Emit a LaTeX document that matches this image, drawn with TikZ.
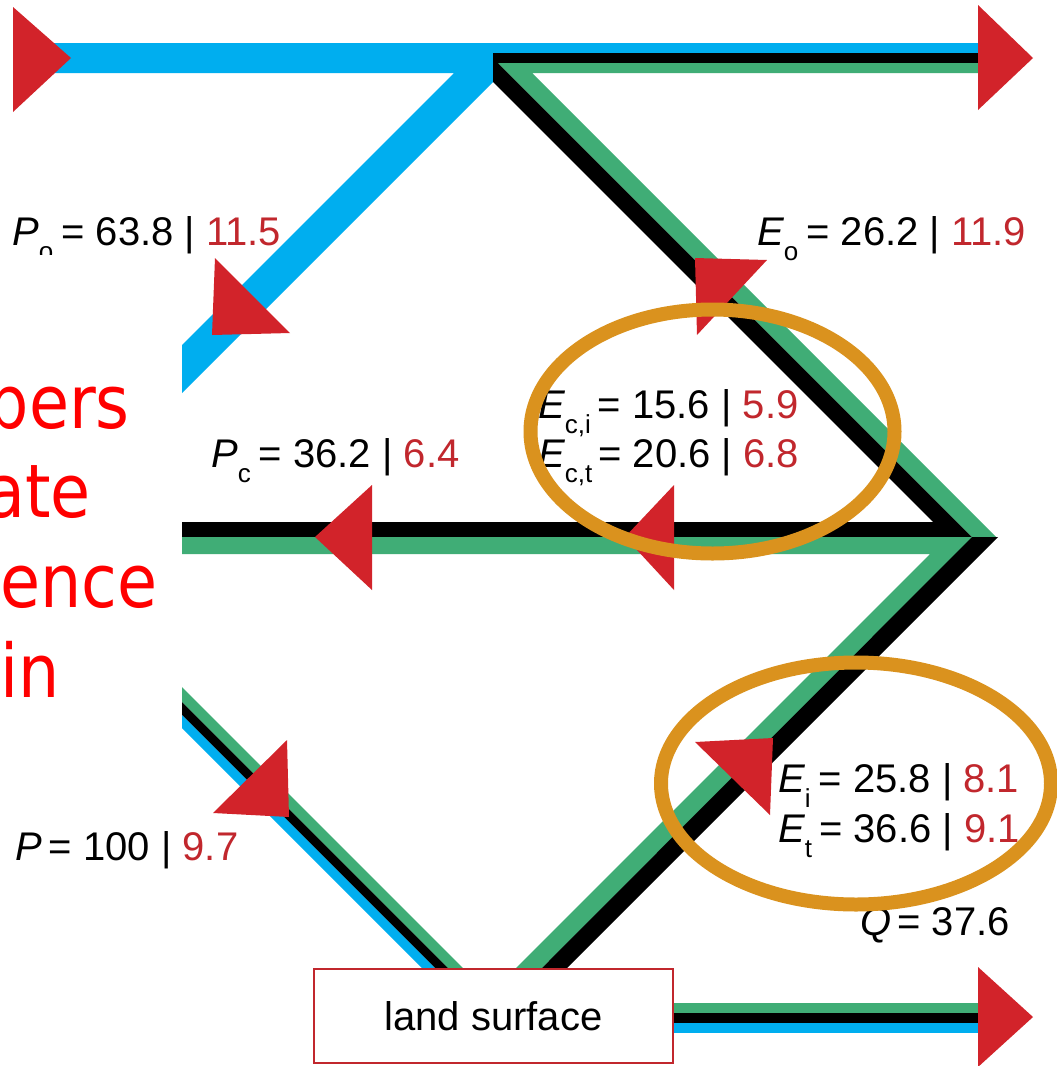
\documentclass[tikz,border=0pt]{standalone}
\usepackage{fontspec}
\setmainfont{Liberation Sans}
\newfontfamily\redfont[FakeStretch=0.88]{DejaVu Sans}
\definecolor{fblue}{RGB}{0,174,239}
\definecolor{fgreen}{RGB}{64,173,118}
\definecolor{fblack}{RGB}{0,0,0}
\definecolor{ared}{RGB}{210,35,42}
\definecolor{nred}{RGB}{193,39,45}
\definecolor{ering}{RGB}{218,146,30}
\definecolor{ovred}{RGB}{255,0,0}
\newcommand{\sbs}[1]{\raisebox{-15pt}{\fontsize{26}{26}\selectfont #1}}
\begin{document}
\begin{tikzpicture}[x=1pt,y=-1pt,
  lab/.style={font=\fontsize{40}{44}\selectfont,inner sep=0pt,anchor=base west},
  tri/.style={fill=ared},
  ring/.style={draw=ering,line width=14pt},
  ovtext/.style={font=\redfont\fontsize{74}{80}\selectfont,text=ovred,inner sep=0pt,anchor=base east}]
\useasboundingbox (0,0) rectangle (1057,1066);
\fill[white] (0,0) rectangle (1057,1066);

% key points
\coordinate (junction) at (493,58);
\coordinate (vtip) at (997,537);

% top blue (precipitation) with diagonal to canopy
\fill[fblue] (15,43) -- (985,43) -- (985,53) -- (493,53) -- (493,82) -- (150,425)
  -- (150,377) -- (454,73) -- (15,73) -- cycle;
% black band: top right, upper diagonal, middle horizontal
\fill[fblack] (150,522) -- (933,522) -- (493,82) -- (493,53) -- (985,53) -- (985,63)
  -- (498,63) -- (972,537) -- (150,537) -- cycle;
% green band: top right and upper diagonal
\fill[fgreen] (498,63) -- (985,63) -- (985,73) -- (532,73) -- (996,537) -- (972,537) -- cycle;
% green band: middle horizontal and lower diagonal
\fill[fgreen] (150,537) -- (973,537) -- (541,969) -- (515,969) -- (930,554) -- (150,554) -- cycle;
% black band: lower diagonal
\fill[fblack] (972,537) -- (998,537) -- (566,969) -- (541,969) -- cycle;

% throughfall diagonal (P)
\fill[fgreen] (150,655) -- (464,969) -- (449,969) -- (150,670) -- cycle;
\fill[fblack] (150,670) -- (449,969) -- (436,969) -- (150,683) -- cycle;
\fill[fblue]  (150,683) -- (436,969) -- (423,969) -- (150,696) -- cycle;

% runoff (Q)
\fill[fgreen] (668,1003) rectangle (985,1013);
\fill[fblack] (668,1013) rectangle (985,1023);
\fill[fblue]  (668,1023) rectangle (985,1033);

% land surface box
\node[draw=nred,line width=2.5pt,fill=white,minimum width=359pt,minimum height=94pt,
  font=\fontsize{40}{44}\selectfont] (land) at (493.5,1016) {land surface};

% arrowheads
\fill[tri] (13,7) -- (13,112) -- (71,58) -- cycle;
\fill[tri] (978,5) -- (978,110) -- (1033,58) -- cycle;
\fill[tri] (215,258) -- (212,335) -- (290,333) -- cycle;
\fill[tri] (695,258) -- (767,260) -- (697,335) -- cycle;
\fill[tri] (315,537) -- (372,485) -- (372,590) -- cycle;
\fill[tri] (625,537) -- (674,485) -- (674,590) -- cycle;
\fill[tri] (287,740) -- (213,813) -- (289,817) -- cycle;
\fill[tri] (695,742) -- (773,738) -- (770,815) -- cycle;
\fill[tri] (978,967) -- (978,1067) -- (1033,1017) -- cycle;

% labels
\node[lab] (po) at (12,245) {{\itshape P}\sbs{o}\kern8pt= 63.8 | \textcolor{nred}{11.5}};
\node[lab] (eo) at (757,245) {{\itshape E}\sbs{o}\kern8pt= 26.2 | \textcolor{nred}{11.9}};
\node[lab] (pc) at (211,467) {{\itshape P}\sbs{c}\kern8pt= 36.2 | \textcolor{nred}{6.4}};
\node[lab] (eci) at (538,418) {{\itshape E}\sbs{c,i}\kern7pt= 15.6 | \textcolor{nred}{5.9}};
\node[lab] (ect) at (538,467) {{\itshape E}\sbs{c,t}\kern6pt= 20.6 | \textcolor{nred}{6.8}};
\node[lab] (ei) at (778,792) {{\itshape E}\sbs{i}\kern8pt= 25.8 | \textcolor{nred}{8.1}};
\node[lab] (et) at (778,842) {{\itshape E}\sbs{t}\kern7pt= 36.6 | \textcolor{nred}{9.1}};
\node[lab] (q) at (860,935) {{\itshape Q}\kern6pt= 37.6};
\node[lab] (p) at (15,860) {{\itshape P}\kern7pt= 100 | \textcolor{nred}{9.7}};

% highlight rings
\draw[ring] (712.5,431.5) ellipse [x radius=182pt, y radius=122pt];
\draw[ring] (856,783.5) ellipse [x radius=195pt, y radius=121pt];

% overlay panel with cut-off red text
\fill[white] (0,255) rectangle (182,740);
\begin{scope}
\clip (0,255) rectangle (182,740);
\node[ovtext] (w1) at (130,428) {bers};
\node[ovtext] (w2) at (91,517) {ate};
\node[ovtext] (w3) at (158,607) {ence};
\node[ovtext] (w4) at (60,697) {in};
\end{scope}
\end{tikzpicture}
\end{document}
